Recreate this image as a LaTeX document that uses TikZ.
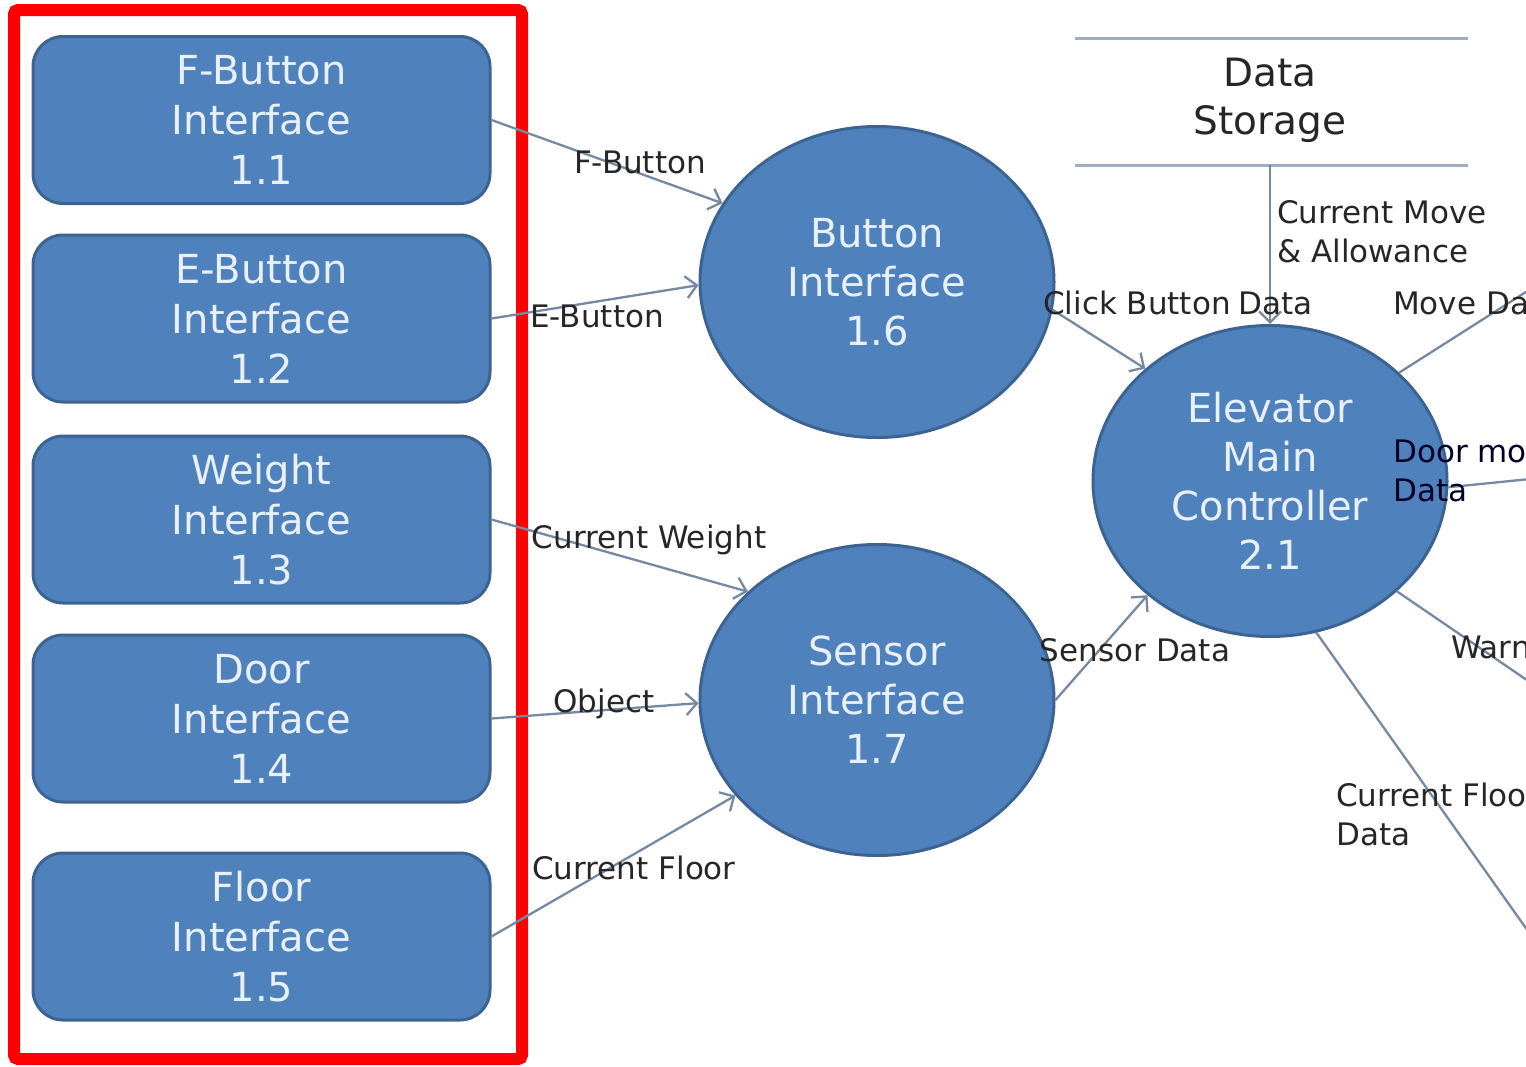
\documentclass[tikz,border=0pt]{standalone}
\usepackage{fontspec}
\setmainfont{DejaVu Sans}
\usetikzlibrary{arrows.meta,shapes.geometric}

\definecolor{procfill}{HTML}{4F81BD}
\definecolor{procedge}{HTML}{3C6391}
\definecolor{proctext}{HTML}{E8F0FA}
\definecolor{flowline}{HTML}{7589A2}
\definecolor{flowtext}{HTML}{262626}
\definecolor{storeline}{HTML}{9DAEC4}
\definecolor{framered}{HTML}{FF0000}

\begin{document}
\begin{tikzpicture}[x=1pt,y=-1pt,
  extbox/.style={draw=procedge, line width=3pt, fill=procfill,
    rounded corners=30pt, minimum width=457pt, minimum height=167pt,
    inner sep=0pt, text=proctext, font=\fontsize{40}{50}\selectfont, align=center},
  process/.style={ellipse, draw=procedge, line width=3pt, fill=procfill,
    minimum width=354pt, minimum height=311pt, inner sep=0pt,
    text=proctext, font=\fontsize{40}{49}\selectfont, align=center},
  flow/.style={draw=flowline, line width=2.3pt,
    -{Straight Barb[length=11pt,width=22pt]}},
  plainflow/.style={draw=flowline, line width=2.3pt},
  flowlabel/.style={text=flowtext, font=\fontsize{31}{39}\selectfont,
    inner sep=0pt, align=left},
  storeedge/.style={draw=storeline, line width=3pt},
]
% canvas
\fill[white] (0,0) rectangle (1526,1066);
\useasboundingbox (0,0) rectangle (1526,1066);
\clip (0,0) rectangle (1526,1066);

% highlight frame around the external interfaces
\draw[framered, line width=12pt, rounded corners=4pt] (14,10) rectangle (522,1059);

% external interfaces
\node[extbox] (b1) at (261.5,120)   {F-Button\\Interface\\1.1};
\node[extbox] (b2) at (261.5,318.5) {E-Button\\Interface\\1.2};
\node[extbox] (b3) at (261.5,519.5) {Weight\\Interface\\1.3};
\node[extbox] (b4) at (261.5,718.5) {Door\\Interface\\1.4};
\node[extbox] (b5) at (261.5,936.5) {Floor\\Interface\\1.5};

% processes
\node[process] (bi) at (877,282) {Button\\Interface\\1.6};
\node[process] (si) at (877,700) {Sensor\\Interface\\1.7};
\node[process] (em) at (1270,481) {Elevator\\Main\\Controller\\2.1};

% data store
\coordinate (dstl) at (1075,38);
\coordinate (dstr) at (1468,38);
\coordinate (dsbl) at (1075,165);
\coordinate (dsbr) at (1468,165);
\coordinate (dsb)  at (1270,165);
\draw[storeedge] (dstl) -- (dstr);
\draw[storeedge] (dsbl) -- (dsbr);
\node[text=flowtext, font=\fontsize{39}{48}\selectfont, align=center] (ds) at (1270,100) {Data\\Storage};

% off-page ends of outgoing flows
\coordinate (outmove)  at (1540,283);
\coordinate (outdoor)  at (1540,478);
\coordinate (outwarn)  at (1540,689);
\coordinate (outfloor) at (1540,948);

% flows into the interface processes
\draw[flow] (b1.east) -- (bi.153);
\draw[flow] (b2.east) -- (bi.181);
\draw[flow] (b3.east) -- (si.140);
\draw[flow] (b4.east) -- (si.181);
\draw[flow] (b5.east) -- (si.214);

% flows into the controller
\draw[flow] (bi.-9) -- (em.138);
\draw[flow] (si.east) -- (em.223);
\draw[flow] (dsb) -- (em.north);

% flows out of the controller
\draw[plainflow] (em.40) -- (outmove);
\draw[plainflow] (em.-2) -- (outdoor);
\draw[plainflow] (em.-41) -- (outwarn);
\draw[plainflow] (em.-73) -- (outfloor);

% flow labels
\node[flowlabel] (lfb) at (640,162) {F-Button};
\node[flowlabel] (leb) at (597,316) {E-Button};
\node[flowlabel] (lcw) at (649,540) {Current Weight};
\node[flowlabel] (lob) at (604,704) {Object};
\node[flowlabel] (lcf) at (634,868) {Current Floor};
\node[flowlabel] (lcb) at (1178,303) {Click Button\hspace{8pt}Data};
\node[flowlabel, anchor=west] (lma) at (1277,232) {Current Move\\\& Allowance};
\node[flowlabel] (lsd) at (1135,650) {Sensor Data};
\node[flowlabel, anchor=west] (lmd) at (1393,303) {Move Data};
\node[flowlabel, anchor=west, text=black!85!blue] (ldm) at (1393,471) {Door move\\Data};
\node[flowlabel, anchor=west] (lwa) at (1451,650) {Warning};
\node[flowlabel, anchor=west] (lfd) at (1336,814) {Current Floor\\Data};
\end{tikzpicture}
\end{document}
